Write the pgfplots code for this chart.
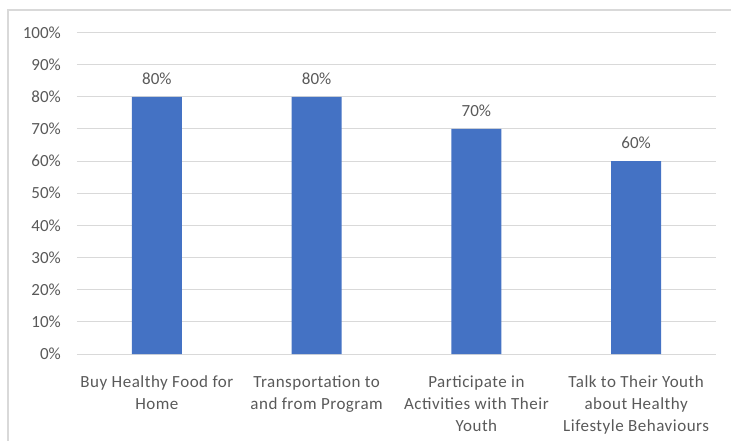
\documentclass[border=0pt]{standalone}
\usepackage{pgfplots}
\pgfplotsset{compat=1.18}
\usepackage{fontspec}
\setmainfont{Carlito}
\newfontfamily\xlabfont[LetterSpace=3]{Carlito}
\definecolor{barblue}{HTML}{4472C4}
\definecolor{txt}{HTML}{595959}
\definecolor{gridc}{HTML}{D9D9D9}
\begin{document}
\begin{tikzpicture}[x=1pt,y=1pt]
\clip (0,0) rectangle (731,440);
\draw[gridc, line width=1.2pt] (8,-20) rectangle (760,430);
\begin{axis}[
  at={(77pt,86pt)}, anchor=south west,
  scale only axis, width=639pt, height=321.5pt,
  xmin=-0.5, xmax=3.5, ymin=0, ymax=100,
  axis line style={draw=none},
  major tick style={draw=none},
  ymajorgrids, grid style={gridc, line width=1pt},
  ytick={0,10,...,100},
  yticklabel={\pgfmathprintnumber{\tick}\%},
  /pgf/number format/assume math mode=true,
  xtick={0,1,2,3},
  xticklabels={{Buy Healthy Food for\\Home},{Transportation to\\and from Program},{Participate in\\Activities with Their\\Youth},{Talk to Their Youth\\about Healthy\\Lifestyle Behaviours}},
  tick label style={font=\fontsize{17}{22}\selectfont, text=txt},
  yticklabel style={inner sep=0pt, anchor=east, xshift=-16pt},
  xticklabel style={font=\xlabfont\fontsize{17}{22}\selectfont, align=center, inner sep=0pt, anchor=north, yshift=-17pt},
  ybar, bar width=50pt,
  nodes near coords={\pgfmathprintnumber{\pgfplotspointmeta}\%},
  nodes near coords style={font=\fontsize{17}{22}\selectfont, text=txt, inner sep=0pt, anchor=south, yshift=12pt, /pgf/number format/assume math mode=true},
]
\addplot[fill=barblue, draw=none] coordinates {(0,80) (1,80) (2,70) (3,60)};
\end{axis}
\end{tikzpicture}
\end{document}
